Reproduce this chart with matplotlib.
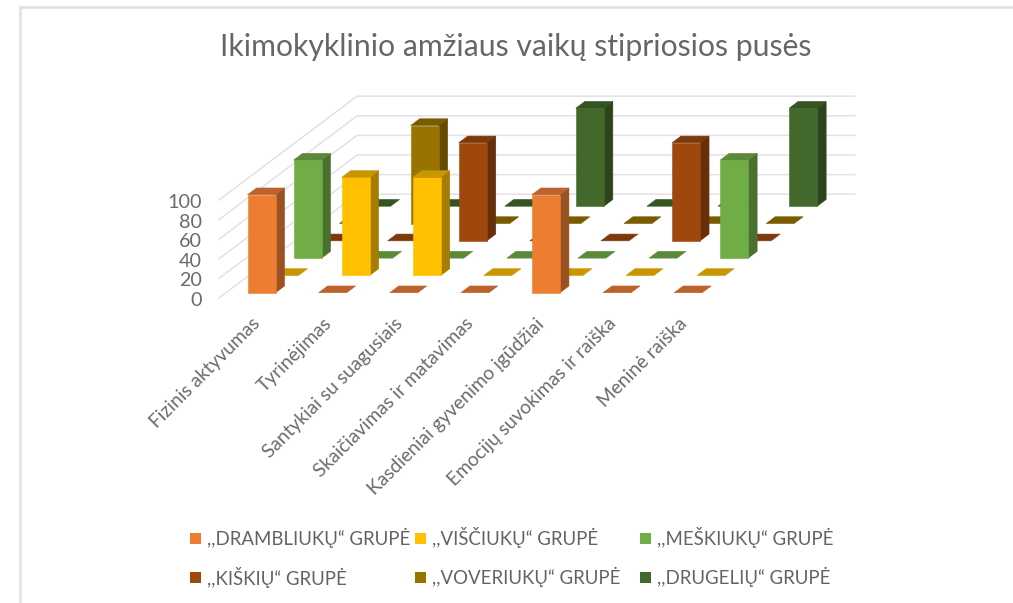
#!/usr/bin/env python
"""Excel style 3-D column chart, drawn on a flat axes with an oblique projection."""
import matplotlib
matplotlib.use("Agg")
import matplotlib.pyplot as plt
from matplotlib.patches import Polygon, Rectangle

plt.rcParams["font.family"] = ["Lato", "DejaVu Sans"]

title = "Ikimokyklinio amžiaus vaikų stipriosios pusės"
categories = ["Fizinis aktyvumas", "Tyrinėjimas", "Santykiai su suagusiais",
              "Skaičiavimas ir matavimas", "Kasdieniai gyvenimo įgūdžiai",
              "Emocijų suvokimas ir raiška", "Meninė raiška"]
series_names = [",,DRAMBLIUKŲ“ GRUPĖ", ",,VIŠČIUKŲ“ GRUPĖ", ",,MEŠKIUKŲ“ GRUPĖ",
                ",,KIŠKIŲ“ GRUPĖ", ",,VOVERIUKŲ“ GRUPĖ", ",,DRUGELIŲ“ GRUPĖ"]
drambliukai = [100, 0, 0, 0, 100, 0, 0]
visciukai = [0, 100, 100, 0, 0, 0, 0]
meskiukai = [100, 0, 0, 0, 0, 0, 100]
kiskiai = [0, 0, 100, 0, 0, 100, 0]
voveriukai = [0, 100, 0, 0, 0, 0, 0]
drugeliai = [0, 0, 0, 100, 0, 0, 100]
values = [drambliukai, visciukai, meskiukai, kiskiai, voveriukai, drugeliai]
z_ticks = [0, 20, 40, 60, 80, 100]

# front, top, side
colors = [("#ED7D31", "#BC622A", "#9A5222"),
          ("#FFC000", "#C79600", "#A67D00"),
          ("#70AD47", "#5A8A39", "#4A702E"),
          ("#9E480E", "#7E390B", "#672F09"),
          ("#997300", "#7A5C00", "#634B00"),
          ("#43682B", "#365322", "#2C441C")]

# projection, in figure pixels
OX, OY = 219.0, 298.0
DX_CAT, DX_SER, DY_SER = 71.1, 23.0, 17.3
DY_Z = 0.98
BAR_W, BAR_D = 0.394, 0.39


def proj(c, s, z=0.0):
    return OX + DX_CAT * c + DX_SER * s, OY - DY_Z * z - DY_SER * s


def draw_bar(ax, c, s, z, cols):
    x0, x1 = c + (1 - BAR_W) / 2, c + (1 + BAR_W) / 2
    y0, y1 = s + (1 - BAR_D) / 2, s + (1 + BAR_D) / 2
    front, top, side = cols
    if z > 0:
        ax.add_patch(Polygon([proj(x1, y0), proj(x1, y1), proj(x1, y1, z), proj(x1, y0, z)],
                             fc=side, ec=side, lw=0.4))
        ax.add_patch(Polygon([proj(x0, y0), proj(x1, y0), proj(x1, y0, z), proj(x0, y0, z)],
                             fc=front, ec=front, lw=0.4))
    ax.add_patch(Polygon([proj(x0, y0, z), proj(x1, y0, z), proj(x1, y1, z), proj(x0, y1, z)],
                         fc=top, ec=top, lw=0.4))


fig = plt.figure(figsize=(10.13, 6.03), dpi=100)
ax = fig.add_axes([0, 0, 1, 1])
ax.set_xlim(0, 1013)
ax.set_ylim(603, 0)
ax.axis("off")

# frame of the pasted chart: only top and left are inside the crop
ax.plot([20, 20, 1013], [603, 7, 7], color="#E0E0E0", lw=1.8, solid_joinstyle="miter", zorder=0)

n_cat, n_ser = len(categories), len(series_names)
grid_color = "#E2E2E2"
for z in z_ticks:
    xa, ya = proj(0, 0, z)
    xb, yb = proj(0, n_ser, z)
    xc, yc = proj(n_cat, n_ser, z)
    ax.plot([xa, xb, xc], [ya, yb, yc], color=grid_color, lw=1.1, zorder=0,
            solid_joinstyle="miter")
    ax.text(xa - 17, ya + 2.5, str(z), ha="right", va="center", fontsize=14.2, color="#6B6B6B")

for s in reversed(range(n_ser)):
    for c in range(n_cat):
        draw_bar(ax, c, s, values[s][c], colors[s])

for c, name in enumerate(categories):
    xt, yt = proj(c + 0.5, 0)
    ax.text(xt - 3, yt + 17, name, rotation=45, rotation_mode="anchor", ha="right", va="top",
            fontsize=13.8, color="#6B6B6B")

ax.text(516, 47, title, ha="center", va="center", fontsize=21.7, color="#666666")

legend_x = [190, 415, 640]
legend_y = [538, 577]
for i, name in enumerate(series_names):
    lx, ly = legend_x[i % 3], legend_y[i // 3]
    ax.add_patch(Rectangle((lx, ly - 5.5), 11, 11, fc=colors[i][0], ec="none"))
    ax.text(lx + 17, ly, name, ha="left", va="center", fontsize=13.4, color="#636363")

fig.savefig("out.png", dpi=100)
